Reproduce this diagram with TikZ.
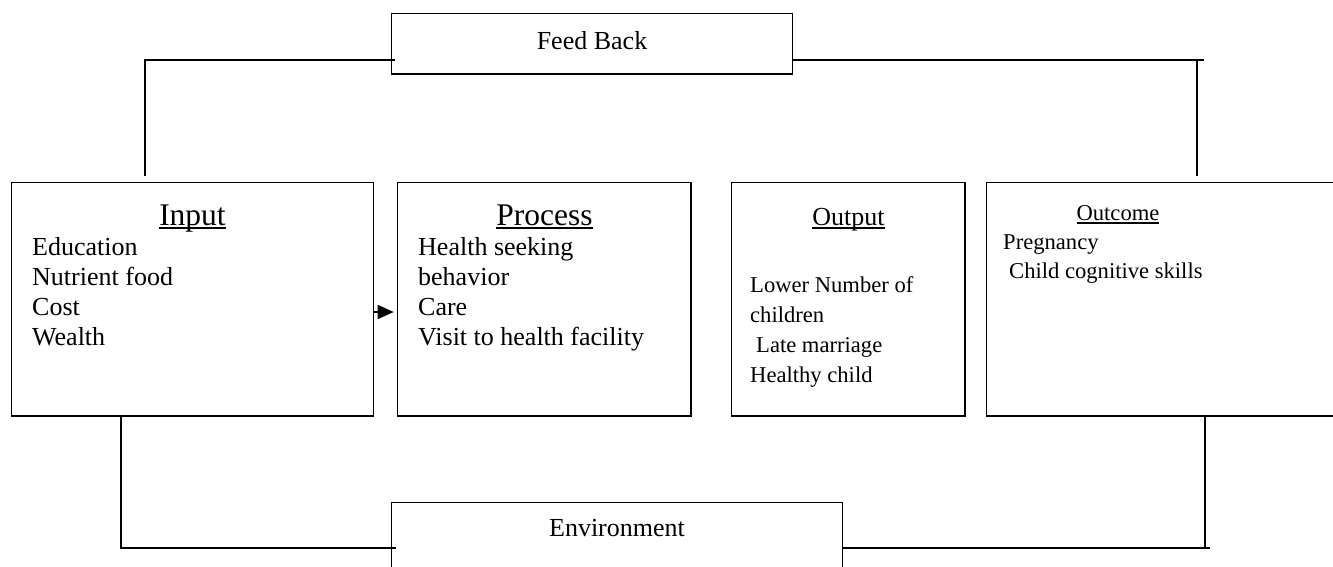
\documentclass[tikz,border=0pt]{standalone}
\usepackage{fontspec}
\setmainfont{Liberation Serif}
\usetikzlibrary{arrows.meta,calc}
% heading with a rule just under the baseline, as a word processor underlines
\newcommand\headul[1]{\setbox0\hbox{#1}\rlap{\vrule width\wd0 height -2.2pt depth 4pt}\box0}
\begin{document}
\begin{tikzpicture}[x=1pt,y=-1pt,
  frame/.style={draw, line width=1.5pt, inner sep=0pt, outer sep=0pt},
  wire/.style={line width=1.5pt},
  big/.style={font=\fontsize{31.5}{36}\selectfont},
  body/.style={font=\fontsize{26}{30}\selectfont},
  small/.style={font=\fontsize{22.6}{30}\selectfont},
  smaller/.style={font=\fontsize{22.6}{29}\selectfont},
  head/.style={inner sep=0pt, anchor=base},
  % multi-line lists are placed by the baseline of their last line
  items/.style={inner sep=0pt, anchor=base west, align=left}]
\useasboundingbox (0,0) rectangle (1333,566);
\clip (0,0) rectangle (1333,566);

% the four stage boxes
\node[frame, minimum width=361.6pt, minimum height=233.3pt] (input)   at (192.5, 299.35) {};
\node[frame, minimum width=293.3pt, minimum height=233.3pt] (process) at (544.35,299.35) {};
\node[frame, minimum width=233.3pt, minimum height=233.3pt] (output)  at (848.35,299.35) {};
\node[frame, minimum width=358.3pt, minimum height=233.3pt] (outcome) at (1165.85,299.35) {};

% feedback and environment boxes
\node[frame, minimum width=401pt, minimum height=60.7pt] (fb)  at (591.8,43.65) {};
\node[frame, minimum width=450.6pt, minimum height=97.7pt] (env) at (617,551.15) {};
\node[head, body] (fbText)  at (592,49.3)  {Feed Back};
\node[head, body] (envText) at (617,536.7) {Environment};

% box contents
\node[head, big] (inHead) at (192.5,225) {\headul{Input}};
\node[items, body] (inItems) at (32,345.5) {Education\\Nutrient food\\Cost\\Wealth};

\node[head, big] (prHead) at (544.5,225) {\headul{Process}};
\node[items, body] (prItems) at (418,345.5) {Health seeking\\behavior\\Care\\Visit to health facility};

\node[head, body] (ouHead) at (848.5,225) {\headul{Output}};
\node[items, small] (ouItems) at (750,382) {Lower Number of\\children\\\hspace*{6pt}Late marriage\\Healthy child};

\node[head, small] (ocHead) at (1118,220) {\headul{Outcome}};
\node[items, smaller] (ocItems) at (1003,278) {Pregnancy\\\hspace*{6pt}Child cognitive skills};

% rails and junction points
\coordinate (topRail) at (0,60);
\coordinate (botRail) at (0,548);
\coordinate (arrowRow) at (0,312);
\coordinate (inTop) at (145,176);
\coordinate (ocTop) at (1197,176);
\coordinate (inBot) at (121,416);
\coordinate (ocBot) at (1205,416);
\coordinate (topEnd) at (1204,60);
\coordinate (botEnd) at (1210,548);

% feedback loop
\draw[wire] ($(fb.west|-topRail)+(4,0)$) -| (inTop);
\draw[wire] (fb.east|-topRail) -- (topEnd);
\draw[wire] (ocTop|-topRail) -- (ocTop);

% environment loop
\draw[wire] (inBot) |- ($(env.west|-botRail)+(4,0)$);
\draw[wire] (env.east|-botRail) -- (botEnd);
\draw[wire] (ocBot) -- (ocBot|-botRail);

% input feeds the process
\draw[wire, -{Triangle[length=16pt,width=14pt]}, shorten >=4pt]
  (input.east|-arrowRow) -- (process.west|-arrowRow);
\end{tikzpicture}
\end{document}
